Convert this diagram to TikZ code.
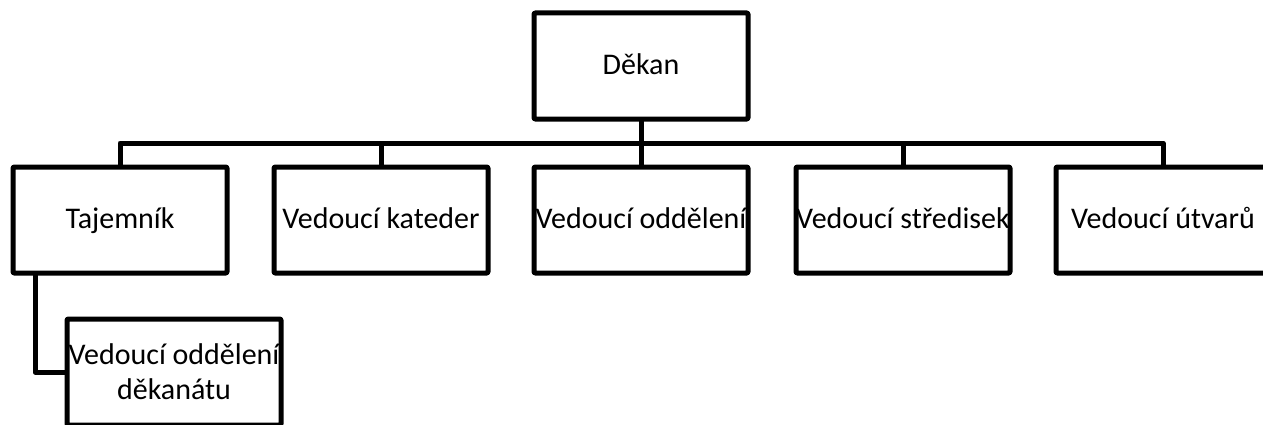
\documentclass[tikz,border=0pt]{standalone}
\usepackage{fontspec}
\setmainfont{Carlito}
\usepackage{tikz}
\usetikzlibrary{positioning}

\tikzset{
  box/.style={draw, line width=5pt, rounded corners=1pt, minimum width=214pt,
    minimum height=106pt, inner sep=0pt, align=center,
    font=\fontsize{30}{35}\selectfont},
  onebox/.style={box, text height=24pt, text depth=7pt},
  conn/.style={line width=5pt}
}

\begin{document}
\begin{tikzpicture}[line cap=rect, line join=round, x=1pt, y=1pt]
\clip (0,0) rectangle (1263,424);
\node [onebox] (dekan) at (641,358) {Děkan};
\node [onebox] (taj) at (120,204) {Tajemník};
\node [onebox] (kat) at (381,204) {Vedoucí kateder};
\node [onebox] (odd) at (641,204) {Vedoucí oddělení};
\node [onebox] (str) at (903,204) {Vedoucí středisek};
\node [onebox] (utv) at (1163,204) {Vedoucí útvarů};
\node [box] (dek) at (174,52) {Vedoucí oddělení\\děkanátu};
\coordinate (bus) at (641,281);
\coordinate (stem) at ([xshift=-85pt]taj.south);
\draw [conn] (dekan.south) -- (bus);
\draw [conn] (taj.north) |- (utv.north |- bus) -- (utv.north);
\foreach \n in {kat,odd,str}
  \draw [conn] (\n.north) -- (\n.north |- bus);
\draw [conn] (stem) |- (dek.west);
\end{tikzpicture}
\end{document}
